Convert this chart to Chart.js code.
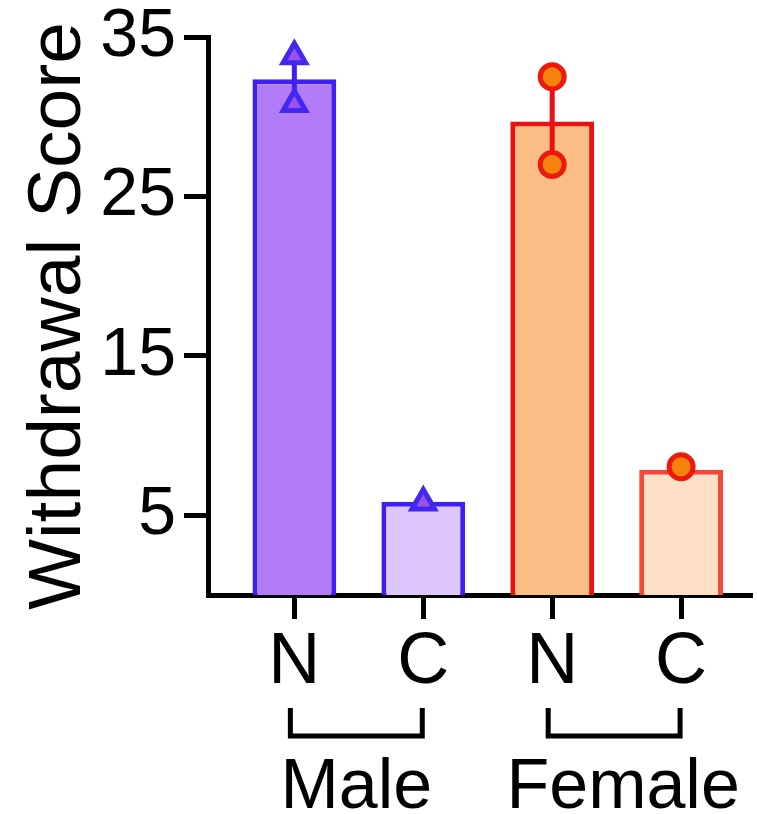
<!DOCTYPE html>
<html>
<head>
<meta charset="utf-8">
<script src="https://cdn.jsdelivr.net/npm/chart.js@4.4.1/dist/chart.umd.min.js"></script>
<style>
  body { margin: 0; background: #fff; }
</style>
</head>
<body>
<canvas id="grafico" width="757" height="814"></canvas>
<script>
// data
const labels = ['N', 'C', 'N', 'C'];
const positions = [0, 1, 2, 3];
const means = [32.35, 5.85, 29.7, 7.85];
const sem = [1.5, 0, 2.75, 0];
const maleX = [0, 0, 1];
const maleY = [33.8, 30.8, 5.8];
const femaleX = [2, 2, 3];
const femaleY = [32.5, 27.0, 8.05];
const yTicks = [5, 15, 25, 35];
const groups = ['Male', 'Female'];
const groupFrom = [0, 2];
const groupTo = [1, 3];

const barFill = ['#b27cf6', '#dcc6fb', '#fbbd86', '#fde0c6'];
const barBorder = ['#3f1ff2', '#3f1ff2', '#ec1010', '#f4483c'];
const family = '"Liberation Sans", Arial, Helvetica, sans-serif';

const errorBars = {
  id: 'errorBars',
  afterDatasetDraw(chart, args) {
    if (args.index !== 0) return;
    const { ctx, scales: { x, y } } = chart;
    ctx.save();
    ctx.lineWidth = 5;
    means.forEach((m, i) => {
      if (!sem[i]) return;
      const px = x.getPixelForValue(positions[i]);
      ctx.strokeStyle = barBorder[i];
      ctx.beginPath();
      ctx.moveTo(px, y.getPixelForValue(m - sem[i]));
      ctx.lineTo(px, y.getPixelForValue(m + sem[i]));
      ctx.stroke();
    });
    ctx.restore();
  }
};

// brackets under the N / C pairs with the group name
const groupBrackets = {
  id: 'groupBrackets',
  afterDraw(chart) {
    const { ctx, chartArea, scales: { x } } = chart;
    const top = chartArea.bottom + 113;
    const bottom = chartArea.bottom + 141;
    const shift = [0, 9];
    ctx.save();
    ctx.strokeStyle = '#000';
    ctx.lineWidth = 5;
    ctx.fillStyle = '#000';
    ctx.font = '70px ' + family;
    ctx.textAlign = 'center';
    ctx.textBaseline = 'alphabetic';
    groups.forEach((g, i) => {
      const x0 = x.getPixelForValue(groupFrom[i]) - 4;
      const x1 = x.getPixelForValue(groupTo[i]) - 1;
      ctx.beginPath();
      ctx.moveTo(x0, top);
      ctx.lineTo(x0, bottom);
      ctx.lineTo(x1, bottom);
      ctx.lineTo(x1, top);
      ctx.stroke();
      ctx.fillText(g, (x0 + x1) / 2 + shift[i], chartArea.bottom + 213);
    });
    ctx.restore();
  }
};

new Chart(document.getElementById('grafico'), {
  type: 'bar',
  data: {
    datasets: [
      {
        type: 'bar',
        data: positions.map((p, i) => ({ x: p, y: means[i] })),
        backgroundColor: barFill,
        borderColor: barBorder,
        borderWidth: 5,
        barPercentage: 0.65,
        categoryPercentage: 1,
        order: 2
      },
      {
        type: 'scatter',
        data: maleX.map((v, i) => ({ x: v, y: maleY[i] })),
        pointStyle: 'triangle',
        pointRadius: 13,
        borderWidth: 5,
        backgroundColor: '#9a52ea',
        borderColor: '#4428f2',
        order: 1
      },
      {
        type: 'scatter',
        data: femaleX.map((v, i) => ({ x: v, y: femaleY[i] })),
        pointStyle: 'circle',
        pointRadius: 12,
        borderWidth: 5,
        backgroundColor: '#f6820e',
        borderColor: '#ea1a0c',
        order: 1
      }
    ]
  },
  options: {
    responsive: false,
    animation: false,
    layout: { autoPadding: false, padding: { top: 37, right: 5, left: 0, bottom: 0 } },
    plugins: { legend: { display: false }, tooltip: { enabled: false } },
    scales: {
      x: {
        type: 'linear',
        min: -0.67,
        max: 3.55,
        offset: false,
        afterBuildTicks: s => { s.ticks = positions.map(v => ({ value: v })); },
        afterFit: s => { s.height = 219; s.paddingLeft = 0; s.paddingRight = 0; },
        grid: { drawOnChartArea: false, drawTicks: true, tickLength: 24, tickWidth: 5, tickColor: '#000', offset: false },
        border: { display: true, color: '#000', width: 5 },
        ticks: {
          callback: (v, i) => labels[i],
          color: '#000',
          font: { family, size: 72 },
          padding: 1,
          maxRotation: 0,
          autoSkip: false
        }
      },
      y: {
        min: 0,
        max: 35,
        afterBuildTicks: s => { s.ticks = yTicks.map(v => ({ value: v })); },
        afterFit: s => { s.width = 208; },
        grid: { drawOnChartArea: false, drawTicks: true, tickLength: 24, tickWidth: 5, tickColor: '#000' },
        border: { display: true, color: '#000', width: 5 },
        ticks: { color: '#000', font: { family, size: 68, lineHeight: 0.8 }, padding: 8 },
        title: {
          display: true,
          text: 'Withdrawal Score',
          color: '#000',
          font: { family, size: 75 },
          padding: { top: 14, bottom: 0 }
        }
      }
    }
  },
  plugins: [errorBars, groupBrackets]
});
</script>
</body>
</html>
